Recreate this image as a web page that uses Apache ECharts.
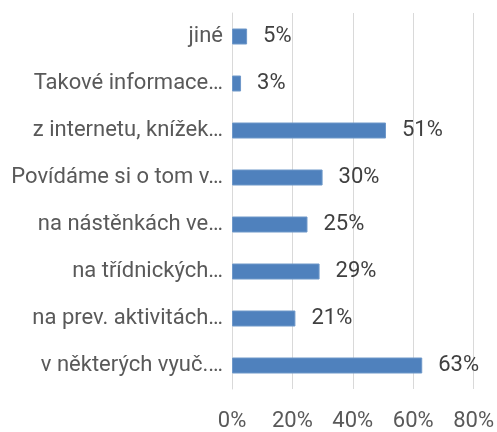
<!DOCTYPE html>
<html>
<head>
<meta charset="utf-8">
<script src="https://cdn.jsdelivr.net/npm/echarts@6/dist/echarts.min.js"></script>
<style>
  html, body { margin: 0; padding: 0; background: #fff; }
  #chart { width: 497px; height: 432px; }
</style>
</head>
<body>
<div id="chart"></div>
<script>
// Answer categories, top to bottom
const categories = [
  'jiné',
  'Takové informace…',
  'z internetu, knížek…',
  'Povídáme si o tom v…',
  'na nástěnkách ve…',
  'na třídnických…',
  'na prev. aktivitách…',
  'v některých vyuč.…'
];
// Share of respondents (%)
const shares = [5, 3, 51, 30, 25, 29, 21, 63];
// Value axis ticks (%)
const tickValues = [0, 20, 40, 60, 80];

const FONT = 'Roboto';
const chart = echarts.init(document.getElementById('chart'));
chart.setOption({
  animation: false,
  grid: { left: 232, right: 23, top: 13, bottom: 40 },
  xAxis: {
    type: 'value',
    min: tickValues[0],
    max: tickValues[tickValues.length - 1],
    interval: tickValues[1] - tickValues[0],
    axisLine: { show: false },
    axisTick: { show: false },
    splitLine: { lineStyle: { color: '#d9d9d9', width: 1 } },
    axisLabel: {
      formatter: '{value}%',
      color: '#595959',
      fontFamily: FONT,
      fontSize: 22,
      margin: 21
    }
  },
  yAxis: {
    type: 'category',
    inverse: true,
    data: categories,
    axisLine: { show: true, lineStyle: { color: '#d9d9d9', width: 1 } },
    axisTick: { show: false },
    axisLabel: {
      color: '#595959',
      fontFamily: FONT,
      fontSize: 22,
      margin: 9
    }
  },
  series: [{
    type: 'bar',
    data: shares,
    barWidth: 16,
    itemStyle: { color: '#4f81bd', borderColor: '#6f98c9', borderWidth: 1 },
    label: {
      show: true,
      position: 'right',
      distance: 16,
      formatter: '{c}%',
      color: '#404040',
      fontFamily: FONT,
      fontSize: 22
    }
  }]
});
</script>
</body>
</html>
